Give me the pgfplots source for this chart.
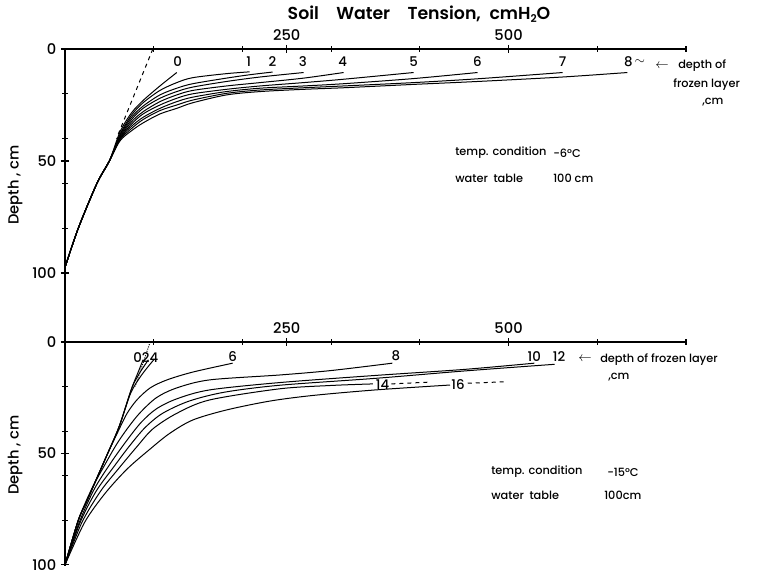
\documentclass[border=0pt]{standalone}
\usepackage{pgfplots}
\pgfplotsset{compat=1.18}
\usepackage{fontspec}
\setmainfont{Poppins}[UprightFont=* Medium, BoldFont=* SemiBold]
\pgfplotsset{
 panel/.style={
  scale only axis, width=465.75pt, xmin=0, xmax=700, ymin=0,
  y dir=reverse, axis x line=top, axis y line=left,
  axis line style={-, line width=0.9pt},
  xtick={250,500}, minor xtick={100,200,300,400,600,700},
  ytick={0,50,100}, minor ytick={20,40,60,80},
  tick align=center, major tick length=6pt, minor tick length=4pt,
  every tick/.style={black, line width=0.8pt},
  tick label style={font=\fontsize{11}{13}\selectfont},
  /pgf/number format/assume math mode=true,
  clip=false,
  cycle list={{black, solid, no markers}},
  every axis plot/.append style={line width=0.75pt, smooth, tension=0.5},
 },
}
\tikzset{lab/.style={font=\fontsize{10}{12}\selectfont, inner sep=0.5pt}}
\begin{document}
\begin{tikzpicture}
\useasboundingbox (0,0) rectangle (573.75pt,434.25pt);
% ---------------- top panel ----------------
\begin{axis}[panel, at={(48.75pt,397.5pt)}, anchor=north west, height=219.75pt, ymax=130.8]
\addplot coordinates {(0,97.5)(15,80)(36,60)(50,50)(62,37)(75,28.5)(88,23)(107,16.5)(126,10.5)};
\addplot coordinates {(0,97.5)(15,80)(36,60)(50,50)(62,38)(75,29.5)(88,24)(107,18.5)(126,15)(144,12.8)(182,11)(208,10.2)};
\addplot coordinates {(0,97.5)(15,80)(36,60)(50,50)(62,38.5)(75,30.5)(88,25.5)(107,20.5)(126,17.5)(144,15.5)(182,13)(210,11.4)(234,10.3)};
\addplot coordinates {(0,97.5)(15,80)(36,60)(50,50)(62,39)(75,31.5)(88,26.5)(107,22)(126,19)(144,17)(182,14.5)(220,12.5)(269,10.5)};
\addplot coordinates {(0,97.5)(15,80)(36,60)(50,50)(62,39.5)(75,32.5)(88,28)(107,23.5)(126,20.5)(144,18.5)(182,16.5)(220,15)(269,13)(314,10.5)};
\addplot coordinates {(0,97.5)(15,80)(36,60)(50,50)(62,40)(75,33.5)(88,29)(107,25)(126,22)(144,20)(182,18)(220,16.5)(269,15)(314,13.5)(393,10.5)};
\addplot coordinates {(0,97.5)(15,80)(36,60)(50,50)(62,40)(75,34.5)(88,30.5)(107,26.5)(126,23.5)(144,21.5)(182,19)(220,17.5)(269,16.5)(314,15.5)(393,13.2)(465,10.5)};
\addplot coordinates {(0,97.5)(15,80)(36,60)(50,50)(62,40.5)(75,35.5)(88,31.5)(107,27.5)(126,25)(144,22.8)(182,19.8)(220,18.3)(269,17.3)(314,16.5)(393,15)(465,13.3)(561,10.5)};
\addplot coordinates {(0,97.5)(15,80)(36,60)(50,50)(62,41)(75,36.5)(88,33)(107,29)(126,26.5)(144,24)(182,20.5)(220,19)(269,18)(314,17.3)(393,15.8)(465,14.5)(561,12.5)(634,10.5)};
\addplot[dashed, sharp plot] coordinates {(99,0)(58,40)};
\node[lab] at (axis cs:127,5.8) {0};
\node[lab] at (axis cs:207,5.8) {1};
\node[lab] at (axis cs:234,5.8) {2};
\node[lab] at (axis cs:268,5.8) {3};
\node[lab] at (axis cs:313,5.8) {4};
\node[lab] at (axis cs:393,5.8) {5};
\node[lab] at (axis cs:465,5.8) {6};
\node[lab] at (axis cs:561,5.8) {7};
\node[lab] at (axis cs:635,5.8) {8};
\node[lab] at (axis cs:648,5.8) {$\sim$};
\end{axis}
% ---------------- bottom panel ----------------
\begin{axis}[panel, at={(48.75pt,177.75pt)}, anchor=north west, height=168pt, ymax=100.5]
\addplot coordinates {(0,100)(15,80)(25,71)(47,51)(61,38)(75,21)(82,14)(88,8)};
\addplot coordinates {(0,100)(15,80)(25,71)(47,51)(61,38)(75,21)(84,14)(94,8)};
\addplot coordinates {(0,100)(15,80)(25,71)(47,51)(61,38)(74,23)(86,15)(100,8)};
\addplot coordinates {(0,100)(15,80)(25,71)(47,51)(60,40)(70,32)(81,26)(96,20.6)(115,17)(144,13.5)(189,9.5)};
\addplot coordinates {(0,100)(15,80)(30,66)(45,55)(58,46)(70,39)(84,32)(103,25)(126,20.6)(163,17)(242,14.8)(300,12.8)(369,9.5)};
\addplot coordinates {(0,100)(16,81)(33,66)(52,54)(70,44)(86,36)(103,30)(126,25.5)(163,21.5)(242,18.2)(350,15)(450,12.3)(529,9.5)};
\addplot coordinates {(0,100)(17,81)(35,67)(55,56)(72,47)(90,38.5)(110,32)(140,26.5)(180,22.5)(242,19.4)(350,16.3)(450,13)(552,10)};
\addplot coordinates {(0,100)(19,81)(40,67)(60,57)(81,47)(99,39)(126,32)(163,26)(242,21)(300,19.5)(347,18.8)};
\addplot[dashed, sharp plot] coordinates {(368,18.8)(411,18)};
\addplot coordinates {(0,100)(22,81)(45,68)(70,57)(96,48)(118,41)(144,35)(182,30.5)(231,26.5)(279,24)(350,21.5)(434,19.3)};
\addplot[dashed, sharp plot] coordinates {(454,18.5)(499,17.8)};
\addplot[densely dotted, sharp plot] coordinates {(96,0)(79,20)};
\node[lab] at (axis cs:91,7) {024};
\node[lab] at (axis cs:189,6.7) {6};
\node[lab] at (axis cs:373,6.3) {8};
\node[lab] at (axis cs:529,6.7) {10};
\node[lab] at (axis cs:557,6.7) {12};
\node[lab] at (axis cs:358,19.3) {14};
\node[lab] at (axis cs:443,19.3) {16};
\end{axis}
% ---------------- texts ----------------
\node[font=\fontsize{13}{15}\selectfont\bfseries] at (314.25pt,423.75pt) {Soil\quad Water\quad Tension,\enspace cmH\raisebox{-0.35ex}{\fontsize{8}{9}\selectfont 2}O};
\node[rotate=90, font=\fontsize{11}{13}\selectfont] at (11.25pt,295.5pt) {Depth , cm};
\node[rotate=90, font=\fontsize{11}{13}\selectfont] at (11.25pt,93pt) {Depth , cm};
\begin{scope}[every node/.style={font=\fontsize{8.5}{10}\selectfont, anchor=west, inner sep=0pt}]
\node at (341.25pt,319.5pt) {temp. condition};
\node at (414.75pt,319.5pt) {-6°C};
\node at (341.25pt,300.75pt) {water\enspace table};
\node at (414.75pt,300.75pt) {100 cm};
\node at (368.25pt,80.25pt) {temp. condition};
\node at (455.25pt,80.25pt) {-15°C};
\node at (368.25pt,63pt) {water\enspace table};
\node at (453pt,63pt) {100cm};
\node at (508.5pt,384.75pt) {depth of};
\node at (504.75pt,370.5pt) {frozen layer};
\node at (526.5pt,357.75pt) {,cm};
\node at (450pt,164.25pt) {depth of frozen layer};
\node at (456pt,151.5pt) {,cm};
\end{scope}
\node[inner sep=0pt] at (496.5pt,384.75pt) {$\leftarrow$};
\node[inner sep=0pt] at (438.75pt,165pt) {$\leftarrow$};
\end{tikzpicture}
\end{document}
